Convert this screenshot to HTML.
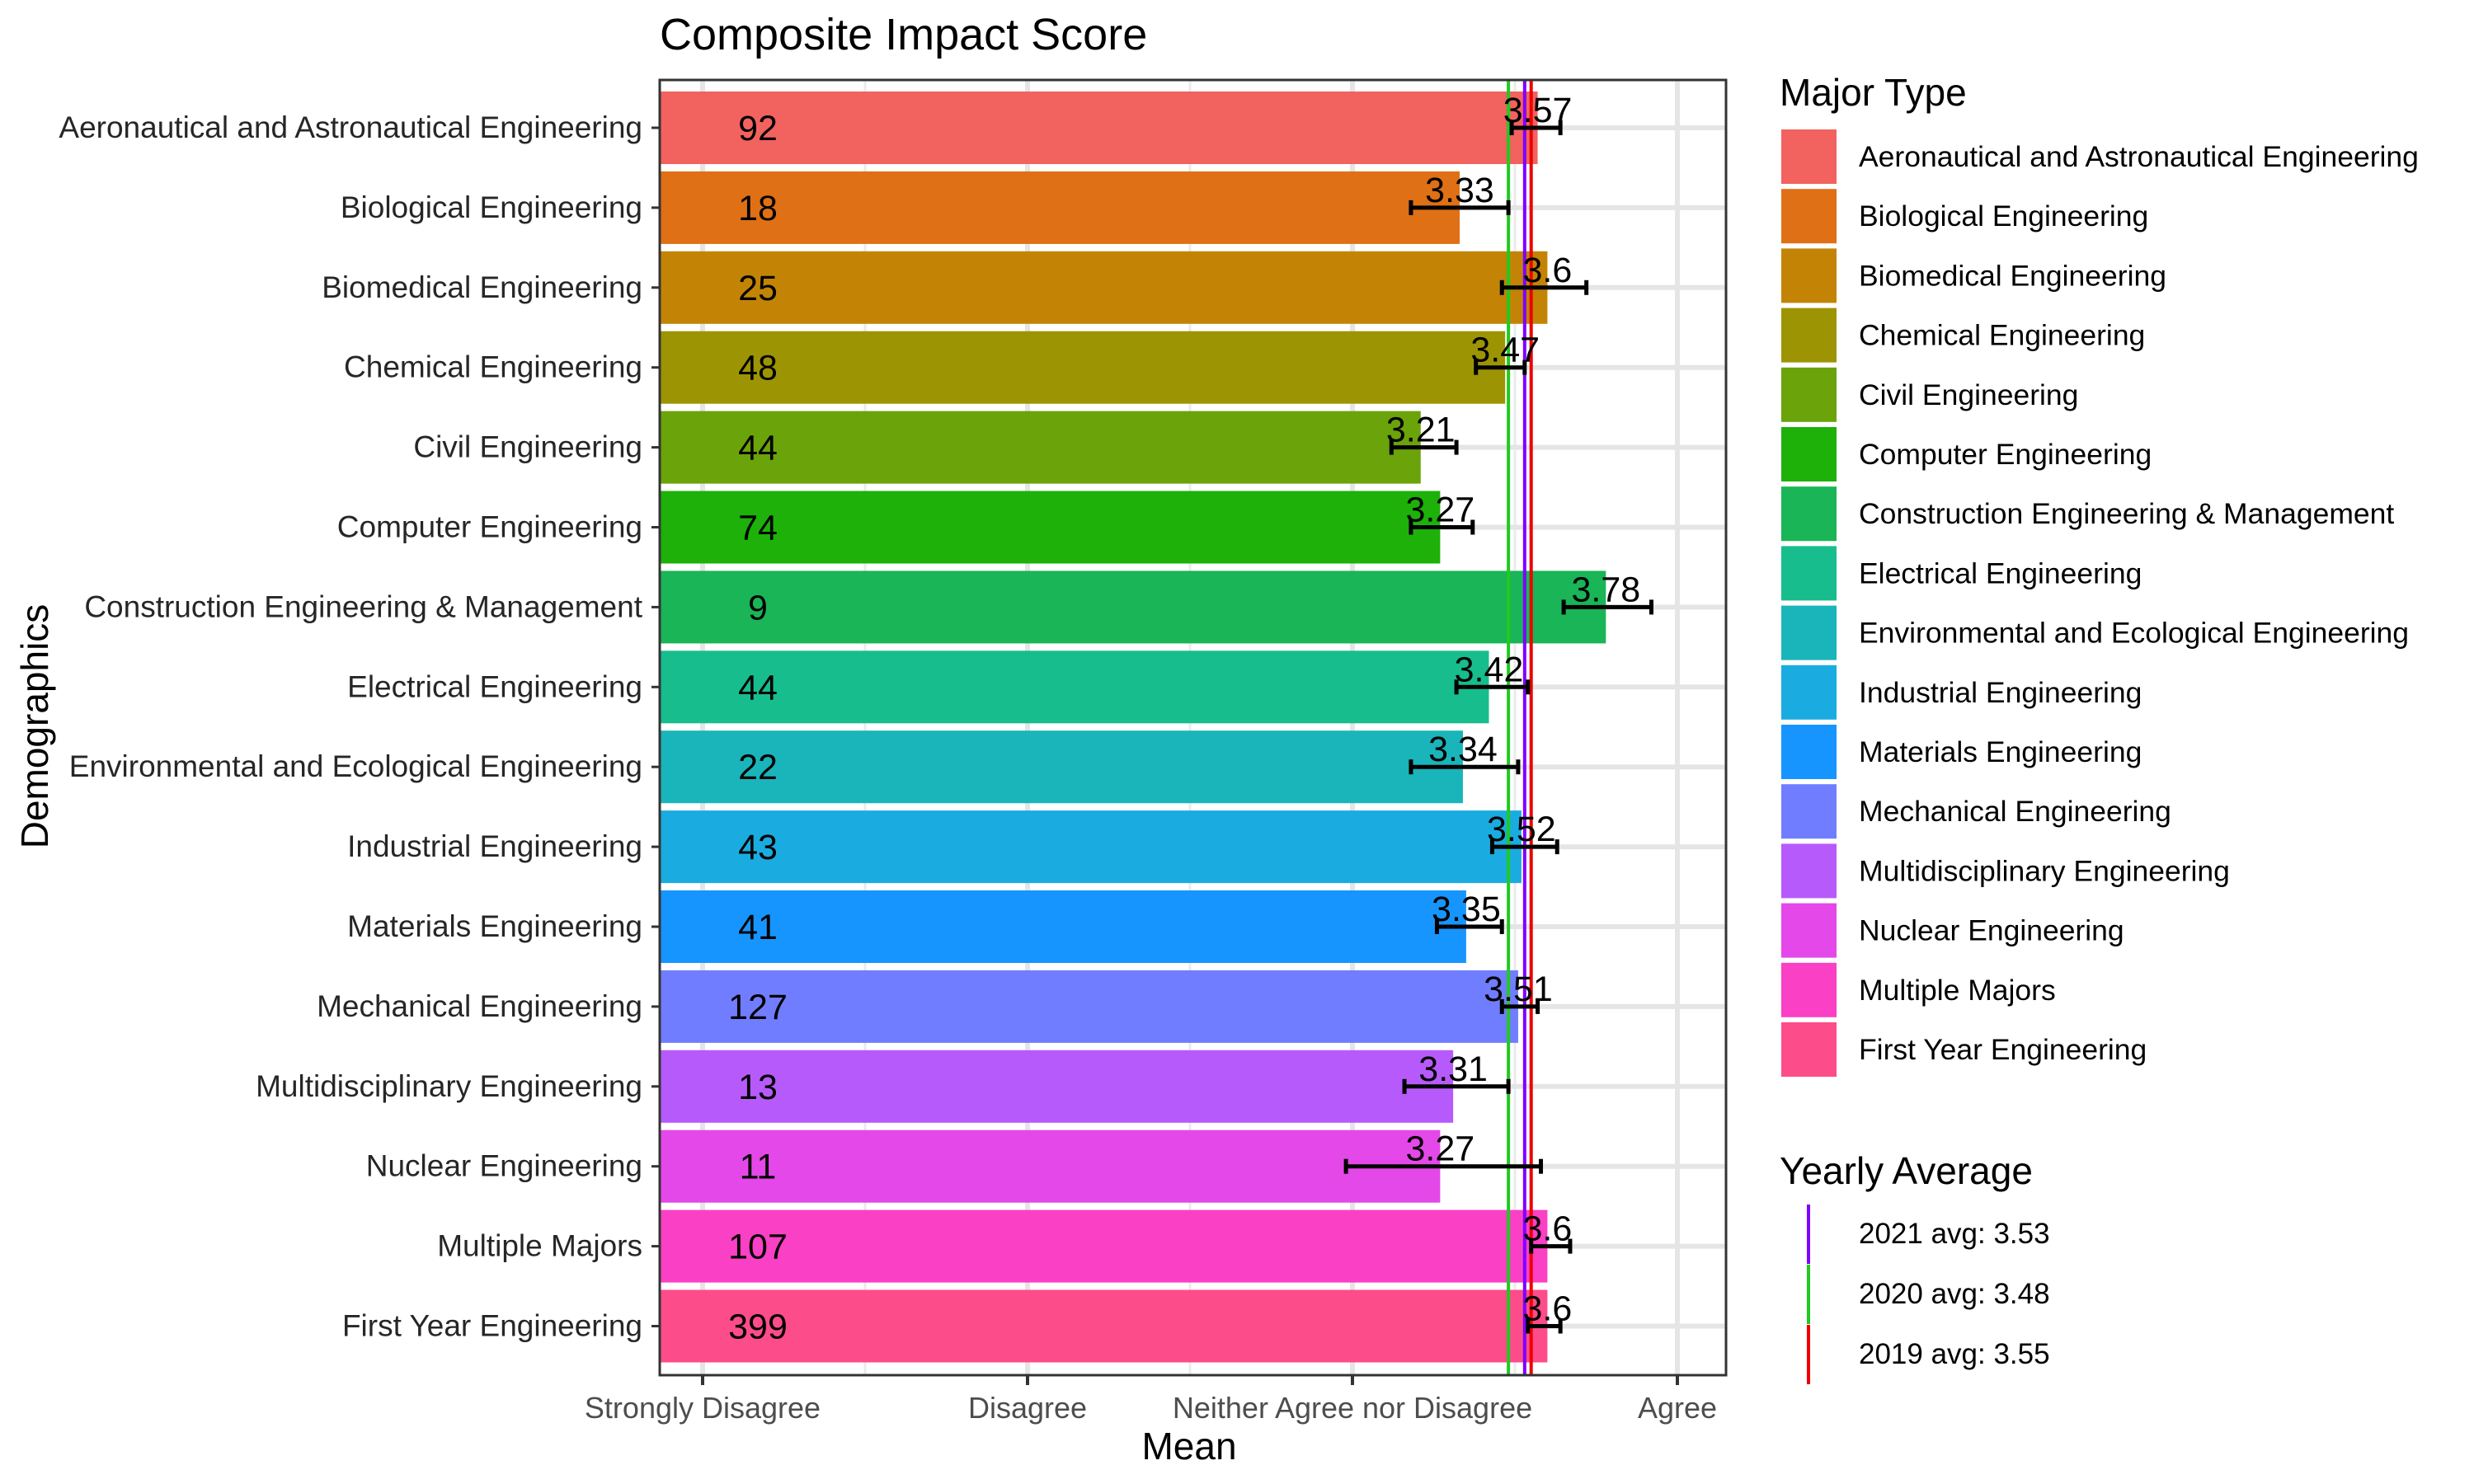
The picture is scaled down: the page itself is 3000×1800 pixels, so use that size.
<!DOCTYPE html>
<html><head><meta charset="utf-8"><style>body{margin:0;background:#fff}svg{display:block;font-family:"Liberation Sans",Arial,sans-serif}</style></head>
<body>
<svg id="chart" width="3000" height="1800" viewBox="0 0 3000 1800" xmlns="http://www.w3.org/2000/svg">
<rect width="3000" height="1800" fill="#fff"/>
<text x="800" y="60" font-size="54">Composite Impact Score</text>
<g id="plot"></g>
<text transform="translate(58,881) rotate(-90)" font-size="46" text-anchor="middle">Demographics</text>
<text x="1442" y="1770" font-size="46" text-anchor="middle">Mean</text>
<g id="legend"></g>
</svg>
<script>
const categories=["Aeronautical and Astronautical Engineering","Biological Engineering","Biomedical Engineering","Chemical Engineering","Civil Engineering","Computer Engineering","Construction Engineering & Management","Electrical Engineering","Environmental and Ecological Engineering","Industrial Engineering","Materials Engineering","Mechanical Engineering","Multidisciplinary Engineering","Nuclear Engineering","Multiple Majors","First Year Engineering"];
const means=[3.57,3.33,3.6,3.47,3.21,3.27,3.78,3.42,3.34,3.52,3.35,3.51,3.31,3.27,3.6,3.6];
const meanLabels=["3.57","3.33","3.6","3.47","3.21","3.27","3.78","3.42","3.34","3.52","3.35","3.51","3.31","3.27","3.6","3.6"];
const lows=[3.49,3.18,3.46,3.38,3.12,3.18,3.65,3.32,3.18,3.43,3.26,3.46,3.16,2.98,3.55,3.54];
const highs=[3.64,3.48,3.72,3.53,3.32,3.37,3.92,3.54,3.51,3.63,3.46,3.57,3.48,3.58,3.67,3.64];
const counts=[92,18,25,48,44,74,9,44,22,43,41,127,13,11,107,399];
const colors=["#F2625E","#DF7015","#C38405","#9D9404","#6AA30A","#1DB10A","#19B556","#17BD8D","#19B5BA","#1AACE0","#1795FF","#717DFF","#B75AFB","#E448E8","#FA40C5","#FD4C8A"];
const tickValues=[1,2,3,4];
const tickLabels=["Strongly Disagree","Disagree","Neither Agree nor Disagree","Agree"];
const yearLabels=["2021 avg: 3.53","2020 avg: 3.48","2019 avg: 3.55"];
const yearValues=[3.53,3.48,3.55];
const yearColors=["#7F00FF","#22C922","#EE0000"];

const NS="http://www.w3.org/2000/svg";
const L=800,R=2093,T=97,B=1668;
const x=v=>852+(v-1)*394;
const step=96.9;
const yc=i=>155+i*step;
function mk(tag,attrs,parent,text){const e=document.createElementNS(NS,tag);for(const k in attrs)e.setAttribute(k,attrs[k]);if(text!==undefined)e.textContent=text;parent.appendChild(e);return e;}
const g=document.getElementById('plot');
for(let v=1.5;v<4.2;v+=1){const l=mk('line',{x1:x(v),x2:x(v),y1:T,y2:B,stroke:'#ebebeb','stroke-width':3},g);}
tickValues.forEach(v=>{const l=mk('line',{x1:x(v),x2:x(v),y1:T,y2:B,stroke:'#e5e5e5','stroke-width':6},g);});
categories.forEach((c,i)=>{const l=mk('line',{x1:L,x2:R,y1:yc(i),y2:yc(i),stroke:'#e5e5e5','stroke-width':6},g);});
const bh=88;
categories.forEach((c,i)=>{
 const r=mk('rect',{x:L,y:yc(i)-bh/2,width:x(means[i])-L,height:bh,fill:colors[i]},g);
 
 
});
[1,0,2].forEach(j=>{const l=mk('line',{x1:x(yearValues[j]),x2:x(yearValues[j]),y1:T,y2:B,stroke:yearColors[j],'stroke-width':4},g);});
categories.forEach((c,i)=>{
 const y=yc(i);
 const eb=mk('g',{stroke:'#000','stroke-width':5},g);
 
 
 mk('line',{x1:x(lows[i]),x2:x(highs[i]),y1:y,y2:y},eb);
 mk('line',{x1:x(lows[i]),x2:x(lows[i]),y1:y-9,y2:y+9},eb);
 mk('line',{x1:x(highs[i]),x2:x(highs[i]),y1:y-9,y2:y+9},eb);
 const t=mk('text',{x:x(means[i]),y:y-7,'font-size':43,'text-anchor':'middle'},g,meanLabels[i]);
 
 
 const n=mk('text',{x:919,y:y+15,'font-size':43,'text-anchor':'middle'},g,String(counts[i]));
 
 
 const cl=mk('text',{x:779,y:y+12,'font-size':37,'text-anchor':'end',fill:'#262626'},g,c);
 
 
 const tk=mk('line',{x1:L-10,x2:L,y1:y,y2:y,stroke:'#333','stroke-width':3},g);
 
 
});
const fr=mk('rect',{x:L,y:T,width:R-L,height:B-T,fill:'none',stroke:'#333','stroke-width':3},g);


tickValues.forEach((v,i)=>{
 const tk=mk('line',{x1:x(v),x2:x(v),y1:B,y2:B+12,stroke:'#333','stroke-width':4},g);
 
 
 const t=mk('text',{x:x(v),y:1720,'font-size':36,'text-anchor':'middle',fill:'#4d4d4d'},g,tickLabels[i]);
 
 
});
const lg=document.getElementById('legend');
const lt=mk('text',{x:2158,y:128,'font-size':46},lg,'Major Type');


categories.forEach((c,i)=>{
 const cy=190+i*72.2;
 const e=mk('g',{},lg);
 
 
 mk('rect',{x:2160,y:cy-33,width:67,height:66,fill:colors[i]},e);
 mk('text',{x:2254,y:cy+12,'font-size':35.5},e,c);
});
const yt=mk('text',{x:2158,y:1436,'font-size':46},lg,'Yearly Average');


yearLabels.forEach((s,i)=>{
 const cy=1497+i*73;
 const e=mk('g',{},lg);
 
 
 mk('line',{x1:2193,x2:2193,y1:cy-36,y2:cy+36,stroke:yearColors[i],'stroke-width':4},e);
 mk('text',{x:2254,y:cy+11,'font-size':35},e,s);
});
</script>
</body></html>
